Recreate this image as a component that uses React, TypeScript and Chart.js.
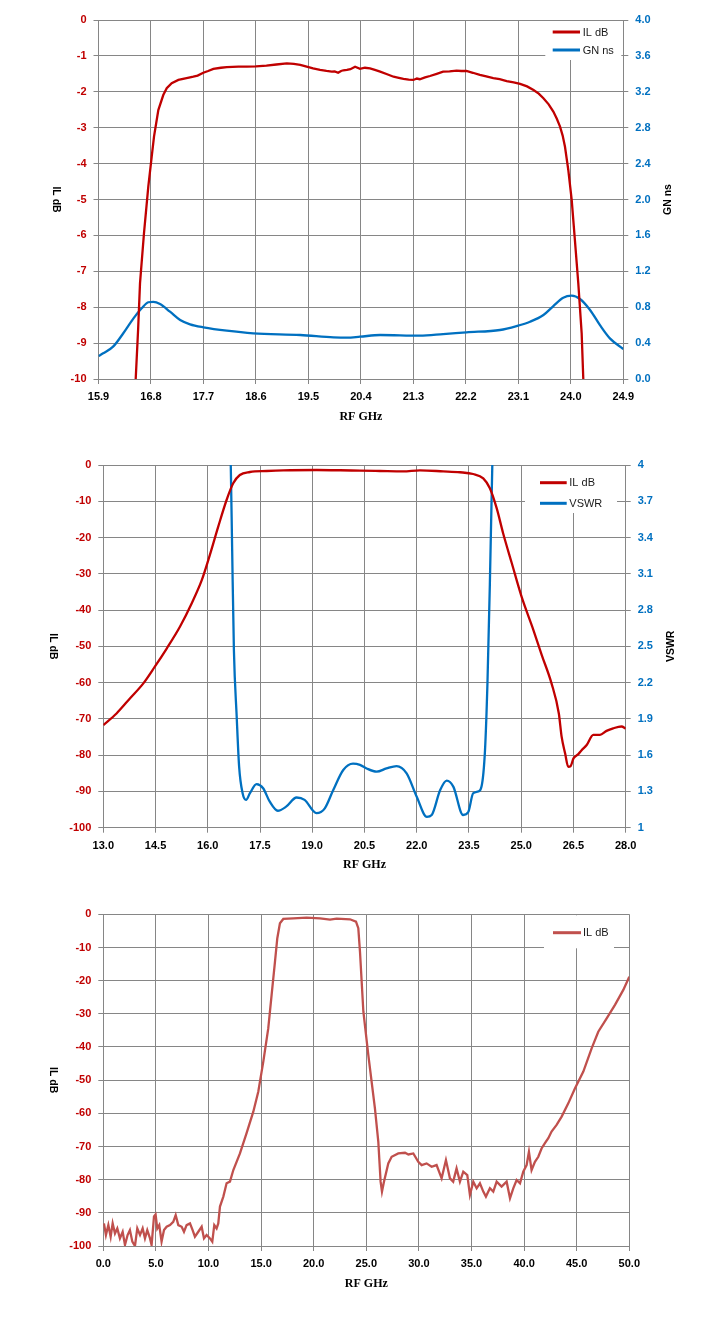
import React, { useEffect, useRef } from 'react';
import Chart from 'chart.js/auto';

// ---------- Chart 1: insertion loss + group delay, 15.9 - 24.9 GHz ----------
const freqTicks1 = [15.9, 16.8, 17.7, 18.6, 19.5, 20.4, 21.3, 22.2, 23.1, 24.0, 24.9];
const ilTicks1 = [0, -1, -2, -3, -4, -5, -6, -7, -8, -9, -10];
const gnTicks1 = [0, 0.4, 0.8, 1.2, 1.6, 2.0, 2.4, 2.8, 3.2, 3.6, 4.0];

const ilFreq1 = [
    16.538, 16.58, 16.612, 16.68, 16.754, 16.812, 16.852, 16.926, 17.011, 17.07,
    17.155, 17.27, 17.35, 17.41, 17.47, 17.526, 17.6, 17.697, 17.78, 17.87,
    18.0, 18.1, 18.3, 18.44, 18.6, 18.78, 18.95, 19.13, 19.25, 19.36,
    19.47, 19.58, 19.7, 19.81, 19.9, 19.95, 20.01, 20.06, 20.1, 20.16,
    20.22, 20.3, 20.385, 20.47, 20.556, 20.64, 20.73, 20.85, 20.96, 21.05,
    21.13, 21.22, 21.3, 21.36, 21.41, 21.5, 21.585, 21.7, 21.81, 21.92,
    22.04, 22.12, 22.21, 22.32, 22.44, 22.55, 22.67, 22.78, 22.9, 23.02,
    23.13, 23.25, 23.36, 23.45, 23.53, 23.62, 23.7, 23.76, 23.815, 23.86,
    23.9, 23.957, 24.015, 24.07, 24.128, 24.186, 24.214,
];
const ilDb1 = [
    -10, -8.6, -7.33, -5.94, -4.64, -3.81, -3.25, -2.51, -2.09, -1.9,
    -1.76, -1.67, -1.64, -1.62, -1.6, -1.58, -1.55, -1.47, -1.42, -1.36,
    -1.33, -1.31, -1.3, -1.3, -1.29, -1.27, -1.24, -1.21, -1.22, -1.25,
    -1.3, -1.35, -1.39, -1.42, -1.44, -1.43, -1.47, -1.42, -1.4, -1.39,
    -1.37, -1.3, -1.36, -1.33, -1.35, -1.39, -1.44, -1.51, -1.58, -1.61,
    -1.64, -1.66, -1.67, -1.63, -1.65, -1.6, -1.56, -1.5, -1.44, -1.43,
    -1.41, -1.42, -1.42, -1.47, -1.53, -1.57, -1.62, -1.65, -1.7, -1.74,
    -1.78, -1.85, -1.95, -2.05, -2.18, -2.35, -2.55, -2.75, -2.97, -3.22,
    -3.53, -4.18, -5.01, -6.13, -7.33, -8.73, -10,
];

const gnFreq1 = [
    15.9, 15.98, 16.15, 16.325, 16.5, 16.64, 16.754, 16.84, 16.955, 17.126,
    17.3, 17.47, 17.7, 18.1, 18.555, 19.36, 19.93, 20.16, 20.385, 20.73,
    21.41, 21.81, 22.21, 22.785, 23.07, 23.3, 23.53, 23.7, 23.87, 24.015,
    24.157, 24.33, 24.5, 24.67, 24.9,
];
const gnNs1 = [
    0.256, 0.286, 0.36, 0.51, 0.676, 0.788, 0.855, 0.86, 0.836, 0.75,
    0.657, 0.609, 0.576, 0.538, 0.509, 0.49, 0.464, 0.46, 0.471, 0.49,
    0.483, 0.5, 0.52, 0.546, 0.59, 0.638, 0.713, 0.813, 0.906, 0.928,
    0.891, 0.769, 0.6, 0.453, 0.334,
];

// ---------- Chart 2: insertion loss + VSWR, 13 - 28 GHz ----------
const freqTicks2 = [13.0, 14.5, 16.0, 17.5, 19.0, 20.5, 22.0, 23.5, 25.0, 26.5, 28.0];
const ilTicks2 = [0, -10, -20, -30, -40, -50, -60, -70, -80, -90, -100];
const vswrTicks2 = [1, 1.3, 1.6, 1.9, 2.2, 2.5, 2.8, 3.1, 3.4, 3.7, 4];

const ilFreq2 = [
    13.0, 13.38, 13.77, 14.15, 14.48, 14.82, 15.2, 15.54, 15.83, 16.06,
    16.3, 16.54, 16.73, 16.92, 17.21, 17.69, 18.17, 19.13, 19.8, 20.37,
    20.94, 21.61, 22.09, 22.76, 23.24, 23.62, 23.91, 24.1, 24.295, 24.48,
    24.73, 25.01, 25.35, 25.59, 25.87, 26.08, 26.16, 26.26, 26.35, 26.42,
    26.5, 26.64, 26.74, 26.88, 27.07, 27.26, 27.45, 27.64, 27.88, 28.0,
];
const ilDb2 = [
    -71.7, -68.5, -64.3, -60.2, -55.6, -50.6, -44.6, -38.1, -31.7, -24.8,
    -17.0, -9.65, -5.05, -2.76, -1.93, -1.65, -1.47, -1.38, -1.45, -1.56,
    -1.65, -1.75, -1.47, -1.75, -2.0, -2.48, -3.67, -6.4, -11.9, -18.8,
    -27.1, -36.3, -45.5, -52.4, -60.2, -68.5, -74.9, -79.5, -83.2, -83.0,
    -80.9, -79.7, -78.6, -77.2, -74.4, -74.4, -73.3, -72.6, -72.1, -72.7,
];

const vswrFreq2 = [
    16.63, 16.66, 16.7, 16.75, 16.83, 16.9, 17.0, 17.1, 17.21, 17.4,
    17.59, 17.78, 18.01, 18.25, 18.55, 18.78, 19.12, 19.36, 19.6, 19.89,
    20.17, 20.37, 20.56, 20.85, 21.13, 21.42, 21.71, 22.0, 22.29, 22.43,
    22.67, 22.86, 23.05, 23.33, 23.48, 23.62, 23.77, 23.86, 23.96, 24.03,
    24.1, 24.17, 24.2,
];
const vswr2 = [
    4.3, 4.0, 3.3, 2.47, 1.92, 1.505, 1.285, 1.23, 1.285, 1.36,
    1.326, 1.215, 1.14, 1.174, 1.25, 1.23, 1.12, 1.16, 1.31, 1.477,
    1.53, 1.52, 1.49, 1.463, 1.49, 1.51, 1.45, 1.256, 1.09, 1.105,
    1.31, 1.39, 1.34, 1.105, 1.13, 1.285, 1.3, 1.34, 1.64, 2.19,
    3.02, 4.0, 4.3,
];

// ---------- Chart 3: wideband insertion loss, 0 - 50 GHz ----------
const freqTicks3 = [0, 5, 10, 15, 20, 25, 30, 35, 40, 45, 50];
const ilTicks3 = [0, -10, -20, -30, -40, -50, -60, -70, -80, -90, -100];

const ilFreq3 = [
    0.06, 0.25, 0.48, 0.7, 0.89, 1.11, 1.33, 1.58, 1.84, 2.06,
    2.31, 2.53, 2.76, 3.01, 3.23, 3.49, 3.74, 3.96, 4.18, 4.44,
    4.59, 4.82, 4.97, 5.13, 5.32, 5.54, 5.77, 6.02, 6.34, 6.65,
    6.88, 7.13, 7.45, 7.67, 7.92, 8.24, 8.49, 8.71, 9.03, 9.35,
    9.57, 9.82, 10.14, 10.36, 10.55, 10.77, 10.93, 11.09, 11.41, 11.72,
    12.04, 12.36, 12.99, 13.62, 14.26, 14.73, 15.21, 15.68, 16.0, 16.32,
    16.54, 16.79, 17.11, 18.06, 19.33, 20.6, 21.55, 22.18, 23.45, 24.02,
    24.24, 24.4, 24.72, 25.19, 25.82, 26.14, 26.36, 26.49, 26.68, 27.09,
    27.41, 28.04, 28.68, 29.0, 29.47, 29.94, 30.26, 30.73, 31.21, 31.68,
    32.16, 32.57, 32.95, 33.26, 33.58, 33.9, 34.22, 34.6, 34.85, 35.17,
    35.49, 35.8, 36.12, 36.37, 36.75, 37.07, 37.39, 37.86, 38.34, 38.66,
    38.97, 39.29, 39.61, 39.92, 40.24, 40.46, 40.71, 41.03, 41.35, 41.66,
    41.98, 42.3, 42.61, 43.09, 43.57, 44.2, 44.83, 45.63, 46.42, 47.05,
    47.85, 48.64, 49.43, 50.0,
];
const ilDb3 = [
    -93.2, -96.7, -93.7, -97.2, -93.2, -96.2, -94.7, -97.7, -95.7, -99.7,
    -96.7, -95.2, -98.7, -100, -94.7, -96.7, -94.7, -97.7, -95.2, -97.7,
    -99.7, -91.1, -90.5, -94.7, -93.7, -98.7, -95.2, -94.2, -93.7, -92.7,
    -90.7, -93.7, -94.2, -95.7, -93.7, -93.2, -95.2, -97.2, -95.7, -94.2,
    -97.7, -96.7, -97.7, -98.7, -93.7, -94.7, -93.2, -88.1, -85.1, -81.1,
    -80.6, -77.1, -72.1, -66.0, -59.5, -53.5, -44.4, -34.4, -24.3, -14.3,
    -7.2, -2.7, -1.4, -1.2, -1.0, -1.2, -1.6, -1.3, -1.5, -2.2,
    -4.2, -11.3, -29.3, -42.4, -58.5, -68.5, -80.6, -83.6, -80.6, -75.1,
    -73.1, -72.1, -71.9, -72.4, -72.1, -74.6, -75.6, -75.1, -76.1, -75.6,
    -79.6, -74.1, -79.6, -80.6, -76.6, -80.6, -77.6, -78.6, -84.6, -80.6,
    -82.6, -81.1, -83.6, -85.1, -82.6, -83.6, -80.6, -82.1, -80.6, -85.6,
    -82.6, -80.1, -81.1, -77.6, -75.6, -71.6, -77.1, -74.6, -73.1, -70.6,
    -69.0, -67.5, -65.5, -63.5, -61.0, -57.0, -52.5, -47.4, -40.4, -35.4,
    -31.4, -27.3, -22.8, -18.8,
];

// ---------- shared look ----------
const GRID = '#868686';
const RED = '#C00000';
const BLUE = '#0070C0';
const SOFT_RED = '#C0504D';
const TICK_FONT = { family: '"Liberation Sans", Arial, sans-serif', size: 11, weight: 'bold' as const };

interface AxisSpec {
    ticks: number[];
    decimals: number | null; // null = shortest form
    color: string;
    title?: string;
}

interface SeriesSpec {
    label: string;
    freq: number[];
    values: number[];
    color: string;
    axis: 'y' | 'y2';
    smooth?: boolean;
}

interface LegendSpec {
    boxLeft: number; // offsets from chartArea.right
    boxRight: number;
    boxHeight: number;
    lineFrom: number;
    lineTo: number;
    textAt: number;
    rows: number[]; // offsets from chartArea.top
}

interface PanelProps {
    top: number;
    height: number;
    padTop: number;
    padRight: number;
    leftWidth: number;
    rightWidth: number;
    bottomHeight: number;
    yTitleGap: number;
    x: AxisSpec;
    y: AxisSpec;
    y2?: AxisSpec;
    series: SeriesSpec[];
    legend: LegendSpec;
}

const fmt = (v: number, decimals: number | null) =>
    decimals === null ? String(Math.round(v * 100) / 100) : v.toFixed(decimals);

// draws the legend inside the plot (over the grid) and the Excel-style axis titles
const overlayPlugin = {
    id: 'overlay',
    beforeDatasetsDraw(chart: any, _args: any, opts: any) {
        const { ctx, chartArea: a } = chart;
        const lg = opts.legend;
        ctx.save();
        ctx.fillStyle = '#ffffff';
        ctx.fillRect(a.right - lg.boxLeft, a.top + 1, lg.boxLeft - lg.boxRight, lg.boxHeight - 1);
        ctx.font = '11px "Liberation Sans", Arial, sans-serif';
        ctx.textAlign = 'left';
        ctx.textBaseline = 'middle';
        opts.items.forEach((it: any, i: number) => {
            const y = a.top + lg.rows[i];
            ctx.strokeStyle = it.color;
            ctx.lineWidth = 3;
            ctx.beginPath();
            ctx.moveTo(a.right - lg.lineFrom, y);
            ctx.lineTo(a.right - lg.lineTo, y);
            ctx.stroke();
            ctx.fillStyle = '#1a1a1a';
            ctx.fillText(it.label, a.right - lg.textAt, y + 0.5);
        });
        ctx.restore();
    },
    afterDraw(chart: any, _args: any, opts: any) {
        const { ctx, chartArea: a } = chart;
        const midY = (a.top + a.bottom) / 2;
        ctx.save();
        ctx.fillStyle = '#000000';
        ctx.textAlign = 'center';
        ctx.textBaseline = 'middle';
        ctx.font = 'bold 12px "Liberation Serif", serif';
        ctx.fillText(opts.xTitle, (a.left + a.right) / 2, a.bottom + 37.5);
        ctx.font = 'bold 10.5px "Liberation Sans", Arial, sans-serif';
        if (opts.yTitle) {
            ctx.save();
            ctx.translate(a.left - opts.yTitleGap, midY);
            ctx.rotate(Math.PI / 2);
            ctx.fillText(opts.yTitle, 0, 0);
            ctx.restore();
        }
        if (opts.y2Title) {
            ctx.save();
            ctx.translate(a.right + 45, midY);
            ctx.rotate(-Math.PI / 2);
            ctx.fillText(opts.y2Title, 0, 0);
            ctx.restore();
        }
        ctx.restore();
    },
};

const Panel: React.FC<PanelProps> = (props) => {
    const canvasRef = useRef<HTMLCanvasElement | null>(null);

    useEffect(() => {
        const ctx = canvasRef.current?.getContext('2d');
        if (!ctx) {
            return;
        }
        const { x, y, y2, series, legend } = props;

        const yScale = (spec: AxisSpec, position: 'left' | 'right', width: number, onChart: boolean) => ({
            type: 'linear' as const,
            position,
            min: Math.min(...spec.ticks),
            max: Math.max(...spec.ticks),
            afterBuildTicks: (scale: any) => {
                scale.ticks = spec.ticks.map((v) => ({ value: v }));
            },
            afterFit: (scale: any) => {
                scale.width = width;
            },
            grid: { color: GRID, lineWidth: 1, tickLength: 5, drawOnChartArea: onChart },
            border: { color: GRID, width: 1 },
            ticks: {
                color: spec.color,
                font: TICK_FONT,
                padding: 7,
                callback: (v: any) => fmt(Number(v), spec.decimals),
            },
        });

        const scales: any = {
            x: {
                type: 'linear',
                position: 'bottom',
                min: Math.min(...x.ticks),
                max: Math.max(...x.ticks),
                afterBuildTicks: (scale: any) => {
                    scale.ticks = x.ticks.map((v) => ({ value: v }));
                },
                afterFit: (scale: any) => {
                    scale.height = props.bottomHeight;
                },
                grid: { color: GRID, lineWidth: 1, tickLength: 5 },
                border: { color: GRID, width: 1 },
                ticks: {
                    color: x.color,
                    font: TICK_FONT,
                    padding: 6.5,
                    maxRotation: 0,
                    autoSkip: false,
                    callback: (v: any) => fmt(Number(v), x.decimals),
                },
            },
            y: yScale(y, 'left', props.leftWidth, true),
        };
        if (y2) {
            scales.y2 = yScale(y2, 'right', props.rightWidth, false);
        }

        const myChart = new Chart(ctx, {
            type: 'line',
            data: {
                datasets: series.map((s) => ({
                    label: s.label,
                    data: s.freq.map((f, i) => ({ x: f, y: s.values[i] })),
                    borderColor: s.color,
                    borderWidth: 2.3,
                    pointRadius: 0,
                    fill: false,
                    yAxisID: s.axis,
                    cubicInterpolationMode: s.smooth ? 'monotone' : 'default',
                    tension: 0,
                })),
            },
            options: {
                responsive: false,
                animation: false,
                layout: { padding: { top: props.padTop, right: props.padRight, left: 0, bottom: 0 } },
                scales,
                plugins: {
                    legend: { display: false },
                    tooltip: { enabled: false },
                    overlay: {
                        legend,
                        items: series.map((s) => ({ label: s.label, color: s.color })),
                        xTitle: x.title,
                        yTitle: y.title,
                        y2Title: y2 ? y2.title : '',
                        yTitleGap: props.yTitleGap,
                    },
                } as any,
            },
            plugins: [overlayPlugin],
        });

        return () => {
            myChart.destroy();
        };
    }, [props]);

    return (
        <canvas
            ref={canvasRef}
            width={718}
            height={props.height}
            style={{ position: 'absolute', left: 0, top: props.top, display: 'block' }}
        />
    );
};

const App: React.FC = () => {
    return (
        <div style={{ position: 'absolute', left: 0, top: 0, width: 718, height: 1332, background: '#fff' }}>
            <Panel
                top={0}
                height={440}
                padTop={20}
                padRight={0}
                leftWidth={98.5}
                rightWidth={94.7}
                bottomHeight={61}
                yTitleGap={43}
                x={{ ticks: freqTicks1, decimals: 1, color: '#000', title: 'RF GHz' }}
                y={{ ticks: ilTicks1, decimals: null, color: RED, title: 'IL dB' }}
                y2={{ ticks: gnTicks1, decimals: 1, color: BLUE, title: 'GN ns' }}
                series={[
                    { label: 'IL dB', freq: ilFreq1, values: ilDb1, color: RED, axis: 'y' },
                    { label: 'GN ns', freq: gnFreq1, values: gnNs1, color: BLUE, axis: 'y2', smooth: true },
                ]}
                legend={{ boxLeft: 78, boxRight: 2, boxHeight: 40, lineFrom: 70.6, lineTo: 43.3, textAt: 40.6, rows: [12, 30] }}
            />
            <Panel
                top={445}
                height={440}
                padTop={20}
                padRight={0}
                leftWidth={103.3}
                rightWidth={92.3}
                bottomHeight={57.3}
                yTitleGap={50}
                x={{ ticks: freqTicks2, decimals: 1, color: '#000', title: 'RF GHz' }}
                y={{ ticks: ilTicks2, decimals: null, color: RED, title: 'IL dB' }}
                y2={{ ticks: vswrTicks2, decimals: null, color: BLUE, title: 'VSWR' }}
                series={[
                    { label: 'IL dB', freq: ilFreq2, values: ilDb2, color: RED, axis: 'y', smooth: true },
                    { label: 'VSWR', freq: vswrFreq2, values: vswr2, color: BLUE, axis: 'y2', smooth: true },
                ]}
                legend={{ boxLeft: 100.7, boxRight: 8.7, boxHeight: 48, lineFrom: 85.7, lineTo: 59, textAt: 56.4, rows: [17.7, 38.3] }}
            />
            <Panel
                top={894}
                height={438}
                padTop={20.3}
                padRight={88.7}
                leftWidth={103.3}
                rightWidth={0}
                bottomHeight={86}
                yTitleGap={50}
                x={{ ticks: freqTicks3, decimals: 1, color: '#000', title: 'RF GHz' }}
                y={{ ticks: ilTicks3, decimals: null, color: RED, title: 'IL dB' }}
                series={[{ label: 'IL dB', freq: ilFreq3, values: ilDb3, color: SOFT_RED, axis: 'y' }]}
                legend={{ boxLeft: 85.3, boxRight: 15.3, boxHeight: 34, lineFrom: 76.3, lineTo: 48.3, textAt: 46.3, rows: [18.4] }}
            />
        </div>
    );
};

export default App;
